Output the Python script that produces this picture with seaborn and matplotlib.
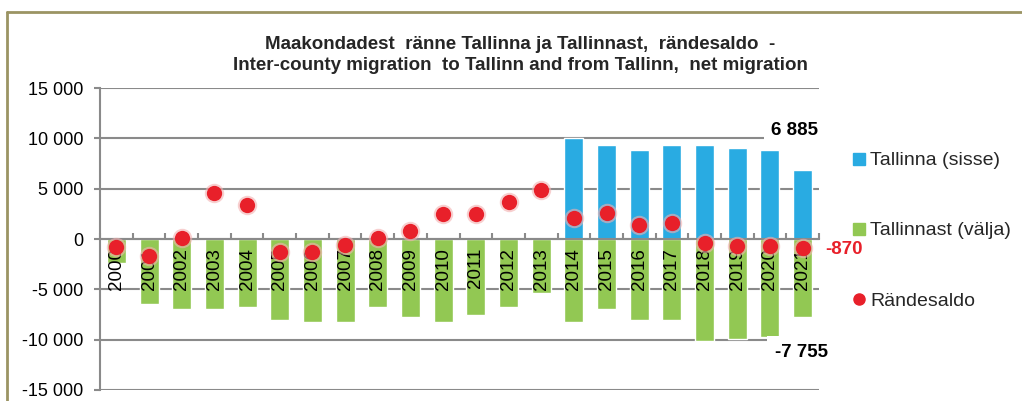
import numpy as np
import pandas as pd
import matplotlib
matplotlib.use("Agg")
import matplotlib.pyplot as plt
from matplotlib.lines import Line2D
import seaborn as sns

# ---------------- data ----------------
years = [str(y) for y in range(2000, 2022)]
inflow = [np.nan] * 14 + [10030, 9300, 8800, 9300, 9300, 9070, 8800, 6885]
outflow = [-2400, -6500, -7000, -7000, -6770, -8000, -8240, -8240, -6770, -7740,
           -8240, -7500, -6770, -5400, -8240, -7000, -8000, -8000, -10130, -9930,
           -9730, -7755]
net = [-760, -1680, 130, 4600, 3420, -1250, -1250, -590, 130, 820, 2530, 2530,
       3680, 4900, 2040, 2600, 1380, 1600, -360, -660, -660, -870]
ytick_values = [-15000, -10000, -5000, 0, 5000, 10000, 15000]
ytick_labels = ["-15 000", "-10 000", "-5 000", "0", "5 000", "10 000", "15 000"]
series_names = ["Tallinna (sisse)", "Tallinnast (välja)", "Rändesaldo"]
title_lines = ["Maakondadest  ränne Tallinna ja Tallinnast,  rändesaldo  -",
               "Inter-county migration  to Tallinn and from Tallinn,  net migration"]

df = pd.DataFrame({"year": years, "inflow": inflow, "outflow": outflow, "net": net})

BLUE = "#29abe2"
GREEN = "#92c853"
RED = "#e8202a"
GRID = "#8a8a8a"

sns.set_theme(style="white")
plt.rcParams["font.family"] = ["Liberation Sans", "DejaVu Sans"]

W, H = 1022, 401
fig = plt.figure(figsize=(W / 100, H / 100), dpi=100)
ax = fig.add_axes([100 / W, 1 - 390 / H, (819 - 100) / W, (390 - 88) / H])

# gridlines
ax.set_ylim(-15000, 15000)
ax.set_yticks(ytick_values)
ax.set_yticklabels(ytick_labels)
ax.yaxis.grid(True, color=GRID, linewidth=1.5, zorder=0)
ax.set_axisbelow(True)

sns.barplot(data=df, x="year", y="inflow", order=years, color=BLUE, width=0.58,
            errorbar=None, saturation=1, ax=ax, zorder=2)
sns.barplot(data=df, x="year", y="outflow", order=years, color=GREEN, width=0.58,
            errorbar=None, saturation=1, ax=ax, zorder=2)

ax.set_xlim(-0.5, len(years) - 0.5)
ax.set_xlabel("")
ax.set_ylabel("")

for s in ["top", "right"]:
    ax.spines[s].set_visible(False)
ax.spines["left"].set_color(GRID)
ax.spines["left"].set_linewidth(1.5)
ax.spines["bottom"].set_position(("data", 0))
ax.spines["bottom"].set_color(GRID)
ax.spines["bottom"].set_linewidth(1.5)
ax.spines["bottom"].set_zorder(3)

ax.tick_params(axis="y", which="major", direction="out", length=4, width=1.5,
               color=GRID, pad=8, labelsize=13, labelcolor="black", left=True)
ax.set_xticks(np.arange(len(years)), minor=False)
ax.set_xticklabels([])
ax.tick_params(axis="x", which="major", length=0)
ax.set_xticks(np.arange(len(years) + 1) - 0.5, minor=True)
ax.tick_params(axis="x", which="minor", direction="in", length=4, width=1.5,
               color=GRID, bottom=True)

# category labels drawn inside the plot, just below the zero line
for i, yr in enumerate(years):
    ax.annotate(yr, (i, 0), xytext=(0, -6.5), textcoords="offset points",
                rotation=90, ha="center", va="top", fontsize=13.5,
                color="black", zorder=3)

# halo + dots
sns.stripplot(data=df, x="year", y="net", order=years, jitter=False, color="#f3b0b0",
              size=14, alpha=0.6, linewidth=0, ax=ax, zorder=4)
sns.stripplot(data=df, x="year", y="net", order=years, jitter=False, color=RED,
              size=11, linewidth=0, ax=ax, zorder=5)
ax.set_xlim(-0.5, len(years) - 0.5)
ax.set_xlabel("")
ax.set_ylabel("")


def fmt(v):
    return f"{int(v):,}".replace(",", " ")


last = len(years) - 1
ax.text(last - 0.25, 10750, fmt(inflow[-1]), ha="center", va="center",
        fontsize=13.5, fontweight="bold", color="black", zorder=6,
        bbox=dict(facecolor="white", edgecolor="none", pad=5))
ax.text(last - 0.03, -11250, fmt(outflow[-1]), ha="center", va="center",
        fontsize=13.5, fontweight="bold", color="black", zorder=6, clip_on=False,
        bbox=dict(facecolor="white", edgecolor="none", pad=5.5))
ax.text(last + 1.25, -1050, fmt(net[-1]), ha="center", va="center",
        fontsize=13.5, fontweight="bold", color=RED, zorder=6, clip_on=False)

handles = [
    Line2D([], [], marker="s", linestyle="", color=BLUE, markersize=8),
    Line2D([], [], marker="s", linestyle="", color=GREEN, markersize=8),
    Line2D([], [], marker="o", linestyle="", color=RED, markersize=8),
]
fig.legend(handles, series_names, loc="upper left",
           bbox_to_anchor=(843 / W, 1 - 142 / H), frameon=False, fontsize=14,
           labelspacing=2.7, handlelength=0.6, handletextpad=0.3, borderpad=0)

fig.text(0.509, 1 - 36 / H, "\n".join(title_lines), ha="center", va="top",
         fontsize=13.5, fontweight="bold", linespacing=1.3)

# outer frame (top and left edges visible)
BORDER = "#9b9463"
fig.add_artist(Line2D([7 / W, 1.0], [1 - 12 / H, 1 - 12 / H], color=BORDER, lw=2,
                      transform=fig.transFigure))
fig.add_artist(Line2D([7 / W, 7 / W], [1 - 12 / H, 0.0], color=BORDER, lw=2,
                      transform=fig.transFigure))

fig.savefig("out.png", dpi=100)
